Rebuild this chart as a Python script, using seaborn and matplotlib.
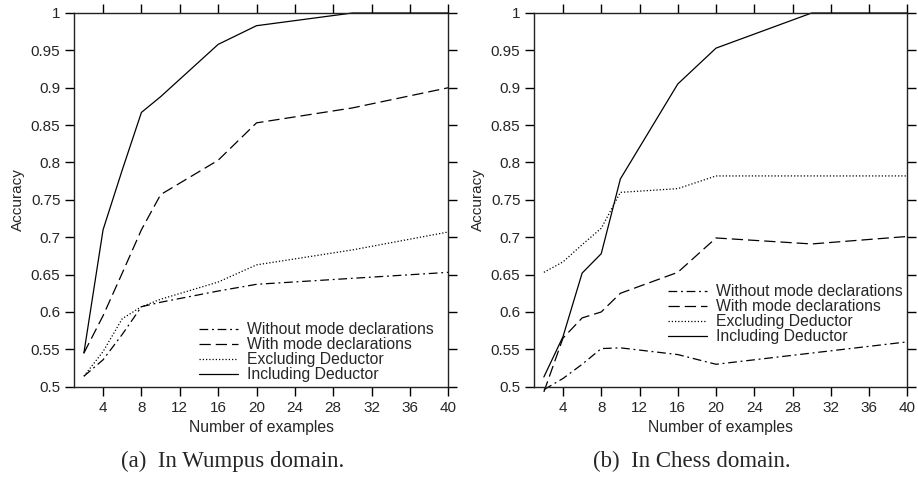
import matplotlib
matplotlib.use("Agg")
import matplotlib.pyplot as plt
import seaborn as sns
import pandas as pd
from matplotlib.ticker import FuncFormatter

# ---------------- data ----------------
examples = [2, 4, 6, 8, 10, 16, 20, 30, 40]

series_names = ["Without mode declarations", "With mode declarations",
                "Excluding Deductor", "Including Deductor"]

# Wumpus domain
wumpus_without = [0.514, 0.536, 0.570, 0.607, 0.613, 0.628, 0.637, 0.645, 0.653]
wumpus_with = [0.545, 0.595, 0.652, 0.710, 0.757, 0.803, 0.853, 0.873, 0.900]
wumpus_excl = [0.514, 0.547, 0.591, 0.607, 0.617, 0.640, 0.663, 0.683, 0.707]
wumpus_incl = [0.545, 0.710, 0.790, 0.867, 0.888, 0.958, 0.983, 1.000, 1.000]

# Chess domain
chess_without = [0.496, 0.511, 0.530, 0.551, 0.552, 0.543, 0.530, 0.545, 0.560]
chess_with = [0.493, 0.565, 0.592, 0.600, 0.625, 0.653, 0.699, 0.691, 0.701]
chess_excl = [0.653, 0.667, 0.690, 0.712, 0.760, 0.765, 0.782, 0.782, 0.782]
chess_incl = [0.513, 0.567, 0.652, 0.678, 0.778, 0.905, 0.953, 1.000, 1.000]

x_ticks = [4, 8, 12, 16, 20, 24, 28, 32, 36, 40]
y_ticks = [0.5, 0.55, 0.6, 0.65, 0.7, 0.75, 0.8, 0.85, 0.9, 0.95, 1.0]

captions = ["(a)  In Wumpus domain.", "(b)  In Chess domain."]


def long_df(vals):
    rows = []
    for name, ys in zip(series_names, vals):
        for x, y in zip(examples, ys):
            rows.append({"Number of examples": x, "Accuracy": y, "series": name})
    return pd.DataFrame(rows)


df_w = long_df([wumpus_without, wumpus_with, wumpus_excl, wumpus_incl])
df_c = long_df([chess_without, chess_with, chess_excl, chess_incl])

# ---------------- style ----------------
sns.set_theme(style="ticks")
plt.rcParams["font.family"] = ["Liberation Sans", "DejaVu Sans"]

dash_styles = {
    "Without mode declarations": (7, 3, 1.5, 3),
    "With mode declarations": (9, 4),
    "Excluding Deductor": (1, 1.6),
    "Including Deductor": "",
}
palette = {n: "black" for n in series_names}

fig = plt.figure(figsize=(9.18, 4.78), dpi=100)
W, H = 918, 478
axes_px = [(74.3, 448.3), (534.3, 907.3)]
top_px, bot_px = 13.0, 386.7
legend_anchor = [(0.334, 0.172), (0.358, 0.274)]

for i, (df, (xl, xr)) in enumerate(zip([df_w, df_c], axes_px)):
    ax = fig.add_axes([xl / W, 1 - bot_px / H, (xr - xl) / W, (bot_px - top_px) / H])
    sns.lineplot(data=df, x="Number of examples", y="Accuracy", hue="series",
                 style="series", dashes=dash_styles, palette=palette,
                 hue_order=series_names, style_order=series_names,
                 linewidth=0.9, ax=ax, legend=False, clip_on=False)
    ax.set_xlim(1, 40)
    ax.set_ylim(0.5, 1.0)
    ax.set_xticks(x_ticks)
    ax.set_yticks(y_ticks)
    ax.yaxis.set_major_formatter(FuncFormatter(lambda v, p: f"{v:g}"))
    ax.tick_params(axis="both", which="major", direction="out", length=6.5,
                   width=1.0, color="black", labelsize=11, pad=3.5,
                   top=True, right=True, labeltop=False, labelright=False)
    for s in ax.spines.values():
        s.set_visible(True)
        s.set_color("#222222")
        s.set_linewidth(1.0)
    ax.set_xlabel("Number of examples", fontsize=11.3, labelpad=4)
    ax.set_ylabel("Accuracy", fontsize=11, labelpad=4)
    ax.set_facecolor("white")

    handles = ax.get_lines()[:4]
    ax.legend(handles, series_names, loc="upper left",
              bbox_to_anchor=legend_anchor[i], frameon=False, fontsize=11.3,
              handlelength=2.5, handletextpad=0.55, labelspacing=0.0,
              borderpad=0, borderaxespad=0)

    cx = (232.5 if i == 0 else 692.0) / W
    fig.text(cx, 1 - 461.5 / H, captions[i], ha="center", va="center",
             fontsize=16.5, family=["Liberation Serif", "DejaVu Serif"])

fig.savefig("out.png", dpi=100, facecolor="white")
